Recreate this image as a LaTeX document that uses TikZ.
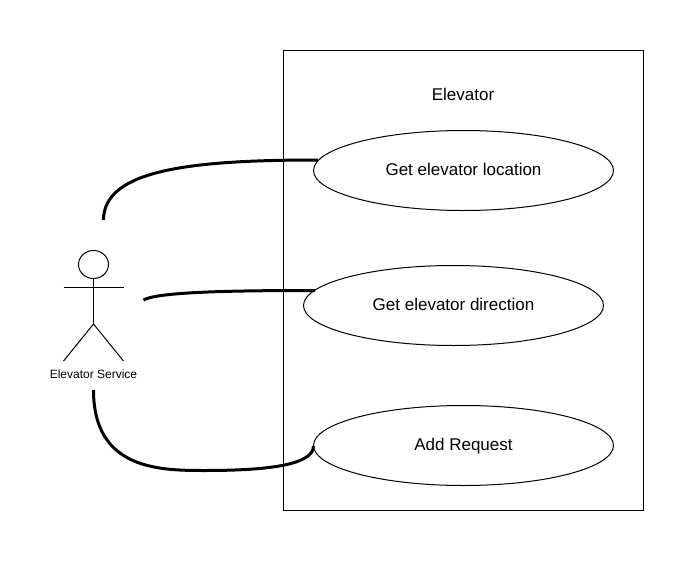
\documentclass[tikz,border=0pt]{standalone}
\usepackage{fontspec}
\setmainfont{Liberation Sans}
\usetikzlibrary{shapes.geometric}
\tikzset{
  x=0.75pt,y=-0.75pt,
  every node/.style={inner sep=0pt,outer sep=0pt},
  usecase/.style={draw,ellipse,minimum width=225pt,minimum height=60pt,line width=0.75pt,font=\fontsize{12.75pt}{15pt}\selectfont,text height=11.1pt,text depth=3pt},
  thin line/.style={line width=0.75pt},
  assoc/.style={line width=2.25pt},
}
\begin{document}
\begin{tikzpicture}
\useasboundingbox (0,0) rectangle (694,561);
\node[draw,line width=0.75pt,minimum width=270pt,minimum height=345pt,anchor=north west] (system) at (283.5,50.5) {};
\node[font=\fontsize{12.75pt}{15pt}\selectfont] (title) at (463,94) {Elevator};
\node[usecase] (loc) at (463.5,170.5) {Get elevator location};
\node[usecase] (dir) at (453.5,305.5) {Get elevator direction};
\node[usecase] (req) at (463.5,445.5) {Add Request};
% actor
\node[draw,ellipse,line width=0.75pt,minimum width=22.5pt,minimum height=21pt] (head) at (93.5,264.5) {};
\coordinate (hip) at (93.5,324);
\coordinate (armL) at (63.5,287);
\coordinate (armR) at (123.5,287);
\coordinate (footL) at (63.5,361);
\coordinate (footR) at (123.5,361);
\draw[thin line] (head.south) -- (hip);
\draw[thin line] (armL) -- (armR);
\draw[thin line] (footL) -- (hip) -- (footR);
\node[font=\fontsize{9pt}{11pt}\selectfont] (actor) at (93.5,374) {Elevator Service};
% free ends
\coordinate (a1) at (103.5,220);
\coordinate (a2) at (143.5,300);
\coordinate (a3) at (93.5,390);
\coordinate (e1) at (318,160);
\coordinate (e2) at (315,290.5);
\coordinate (e3) at (313.5,446);
\draw[assoc] (a1) .. controls (103.5,170) and (190,160) .. (e1);
\draw[assoc] (a2) .. controls (158,291.5) and (240,290.5) .. (e2);
\draw[assoc] (a3) .. controls (93.5,470) and (160,470.5) .. (205,470.5) .. controls (262,470.5) and (313.5,466) .. (e3);
\end{tikzpicture}
\end{document}
